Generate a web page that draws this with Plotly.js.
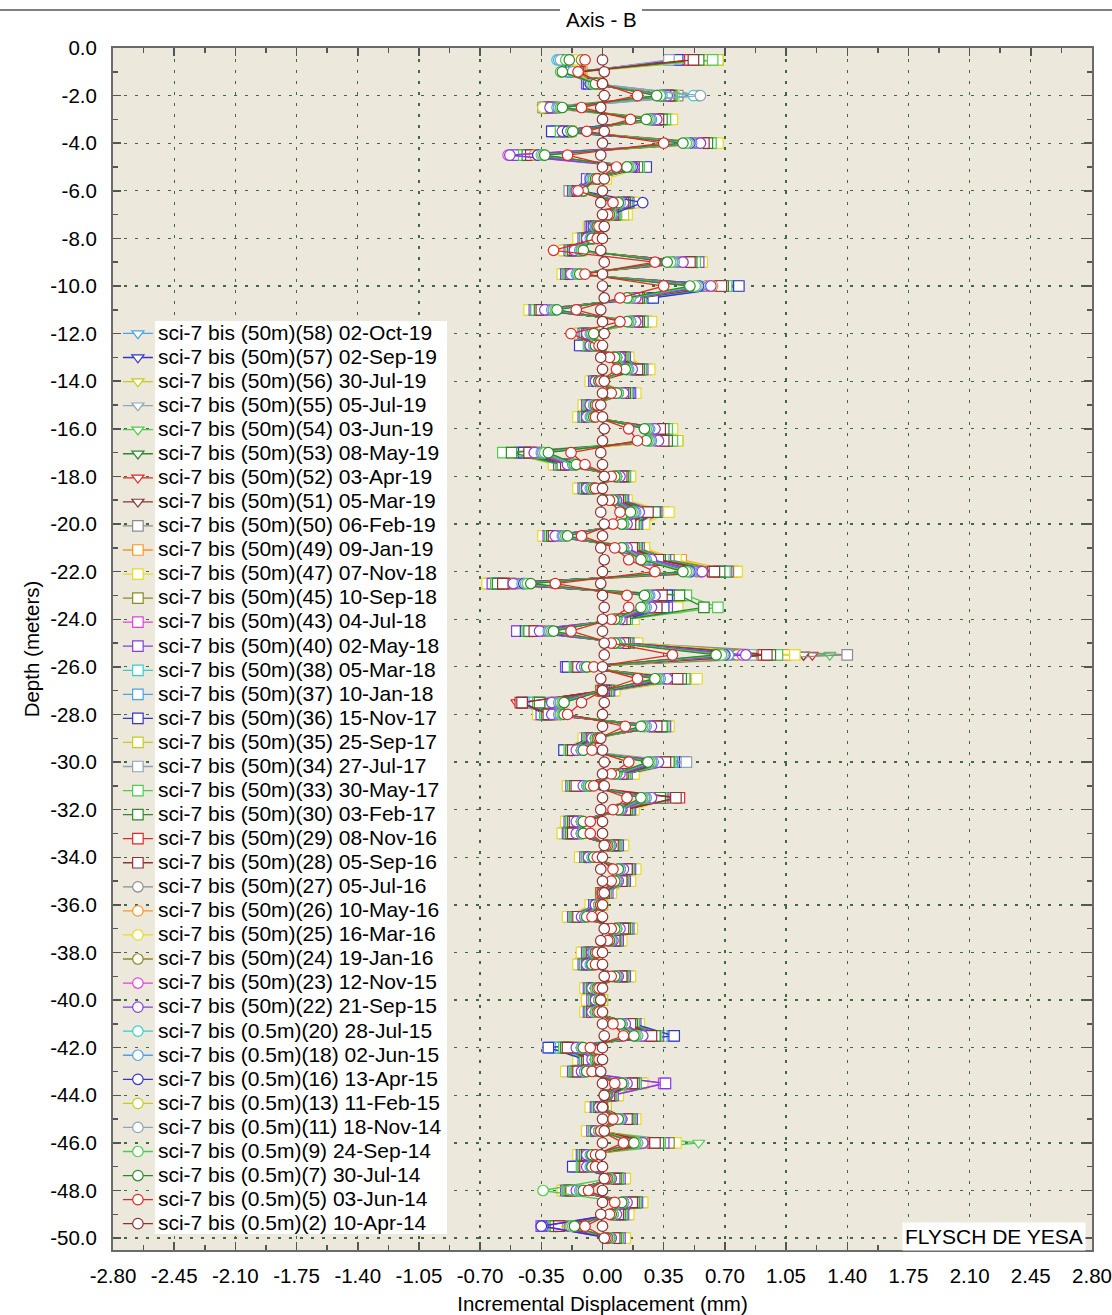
<!DOCTYPE html>
<html><head><meta charset="utf-8">
<script src="https://cdn.plot.ly/plotly-3.0.1.min.js"></script>
<style>html,body{margin:0;padding:0;background:#fff}#chart{width:1112px;height:1315px}</style>
</head><body><div id="chart"></div>
<script>
const depth = [-0.5,-1,-1.5,-2,-2.5,-3,-3.5,-4,-4.5,-5,
-5.5,-6,-6.5,-7,-7.5,-8,-8.5,-9,-9.5,-10,
-10.5,-11,-11.5,-12,-12.5,-13,-13.5,-14,-14.5,-15,
-15.5,-16,-16.5,-17,-17.5,-18,-18.5,-19,-19.5,-20,
-20.5,-21,-21.5,-22,-22.5,-23,-23.5,-24,-24.5,-25,
-25.5,-26,-26.5,-27,-27.5,-28,-28.5,-29,-29.5,-30,
-30.5,-31,-31.5,-32,-32.5,-33,-33.5,-34,-34.5,-35,
-35.5,-36,-36.5,-37,-37.5,-38,-38.5,-39,-39.5,-40,
-40.5,-41,-41.5,-42,-42.5,-43,-43.5,-44,-44.5,-45,
-45.5,-46,-46.5,-47,-47.5,-48,-48.5,-49,-49.5,-50];

const r58 = [0.62,-0.18,-0.08,0.44,-0.33,0.38,-0.26,0.63,-0.47,0.22,
-0.04,-0.18,0.16,0.10,-0.07,-0.12,-0.2,0.55,-0.2,0.74,
0.24,-0.4,0.24,-0.12,-0.1,0.13,0.24,-0.05,0.16,-0.09,
-0.12,0.36,0.39,-0.48,-0.25,0.14,-0.12,0.12,0.3,0.2,
-0.32,0.2,0.36,0.7,-0.64,0.4,0.38,0.14,-0.44,0.16,
1.08,-0.16,0.48,0.05,-0.38,-0.34,0.35,-0.09,-0.2,0.4,
0.14,-0.18,0.35,0.16,-0.18,-0.2,0.1,-0.1,0.16,0.13,
0.03,-0.05,-0.18,0.15,0.09,-0.1,-0.12,0.14,-0.08,-0.06,
-0.08,0.18,0.32,-0.24,-0.12,-0.18,0.2,0.06,-0.04,0.16,
-0.06,0.32,-0.12,-0.14,0.1,-0.2,0.2,0.12,-0.28,0.1];
const r57 = [0.6,-0.16,-0.06,0.42,-0.32,0.36,-0.24,0.65,-0.45,0.24,
-0.05,-0.17,0.14,0.08,-0.06,-0.1,-0.18,0.54,-0.2,0.72,
0.22,-0.38,0.26,-0.1,-0.08,0.12,0.22,-0.04,0.14,-0.08,
-0.1,0.35,0.38,-0.45,-0.24,0.12,-0.1,0.1,0.28,0.18,
-0.3,0.18,0.34,0.68,-0.62,0.36,0.34,0.12,-0.42,0.14,
1.02,-0.15,0.46,0.03,-0.36,-0.33,0.34,-0.08,-0.18,0.38,
0.12,-0.16,0.33,0.15,-0.17,-0.18,0.08,-0.09,0.15,0.12,
0.02,-0.04,-0.16,0.13,0.08,-0.08,-0.1,0.12,-0.07,-0.05,
-0.07,0.17,0.3,-0.22,-0.1,-0.16,0.18,0.05,-0.03,0.15,
-0.05,0.3,-0.11,-0.12,0.09,-0.19,0.19,0.11,-0.27,0.09];
const r56 = [0.61,-0.17,-0.04,0.4,-0.31,0.35,-0.23,0.62,-0.44,0.2,
-0.06,-0.16,0.13,0.07,-0.05,-0.09,-0.17,0.53,-0.19,0.7,
0.21,-0.37,0.22,-0.09,-0.07,0.11,0.2,-0.03,0.13,-0.07,
-0.09,0.37,0.4,-0.44,-0.22,0.11,-0.09,0.09,0.26,0.17,
-0.29,0.17,0.33,0.66,-0.6,0.35,0.33,0.11,-0.4,0.13,
0.98,-0.14,0.44,0.02,-0.34,-0.32,0.33,-0.07,-0.17,0.37,
0.11,-0.15,0.32,0.14,-0.16,-0.17,0.07,-0.08,0.14,0.11,
0.01,-0.03,-0.15,0.12,0.07,-0.07,-0.09,0.11,-0.06,-0.04,
-0.06,0.16,0.29,-0.2,-0.09,-0.15,0.17,0.04,-0.02,0.14,
-0.04,0.29,-0.1,-0.11,0.08,-0.18,0.18,0.1,-0.26,0.08];
const r55 = [0.57,-0.14,-0.05,0.45,-0.3,0.34,-0.25,0.6,-0.43,0.19,
-0.07,-0.15,0.12,0.09,-0.03,-0.11,-0.15,0.52,-0.17,0.69,
0.2,-0.36,0.21,-0.11,-0.06,0.1,0.21,-0.02,0.12,-0.06,
-0.08,0.33,0.36,-0.43,-0.21,0.13,-0.07,0.11,0.25,0.16,
-0.27,0.16,0.31,0.64,-0.58,0.34,0.31,0.1,-0.39,0.12,
0.95,-0.13,0.42,0.01,-0.32,-0.31,0.31,-0.06,-0.16,0.36,
0.1,-0.14,0.31,0.13,-0.15,-0.16,0.06,-0.07,0.13,0.1,
0.0,-0.02,-0.14,0.11,0.06,-0.06,-0.08,0.1,-0.05,-0.03,
-0.05,0.15,0.27,-0.19,-0.08,-0.14,0.16,0.03,-0.01,0.13,
-0.03,0.28,-0.09,-0.1,0.07,-0.17,0.17,0.09,-0.25,0.07];
const r54 = [0.59,-0.15,-0.07,0.41,-0.34,0.36,-0.24,0.61,-0.46,0.21,
-0.05,-0.17,0.15,0.08,-0.05,-0.1,-0.18,0.54,-0.21,0.72,
0.23,-0.39,0.23,-0.1,-0.09,0.12,0.23,-0.04,0.15,-0.08,
-0.11,0.38,0.42,-0.5,-0.26,0.13,-0.11,0.11,0.3,0.19,
-0.31,0.19,0.37,0.72,-0.63,0.42,0.4,0.15,-0.45,0.15,
1.3,-0.17,0.5,0.04,-0.4,-0.35,0.36,-0.09,-0.2,0.41,
0.13,-0.17,0.36,0.16,-0.19,-0.2,0.09,-0.1,0.17,0.13,
0.03,-0.05,-0.17,0.15,0.08,-0.09,-0.11,0.13,-0.08,-0.06,
-0.08,0.19,0.33,-0.23,-0.11,-0.17,0.2,0.06,-0.04,0.17,
-0.06,0.55,-0.12,-0.13,0.1,-0.21,0.2,0.12,-0.29,0.1];
const r53 = [0.6,-0.17,-0.06,0.39,-0.33,0.35,-0.23,0.6,-0.45,0.2,
-0.06,-0.16,0.14,0.07,-0.06,-0.09,-0.19,0.52,-0.2,0.7,
0.22,-0.38,0.22,-0.09,-0.08,0.11,0.22,-0.03,0.14,-0.07,
-0.1,0.36,0.4,-0.47,-0.24,0.12,-0.1,0.1,0.28,0.18,
-0.3,0.18,0.35,0.7,-0.62,0.38,0.36,0.13,-0.43,0.14,
1.15,-0.16,0.48,0.03,-0.38,-0.34,0.35,-0.08,-0.19,0.39,
0.12,-0.16,0.34,0.15,-0.18,-0.19,0.08,-0.09,0.16,0.12,
0.02,-0.04,-0.16,0.14,0.07,-0.08,-0.1,0.12,-0.07,-0.05,
-0.07,0.18,0.31,-0.22,-0.1,-0.16,0.19,0.05,-0.03,0.16,
-0.05,0.33,-0.11,-0.12,0.09,-0.2,0.19,0.11,-0.28,0.09];
const r52 = [0.56,-0.16,-0.05,0.38,-0.31,0.34,-0.22,0.59,-0.43,0.19,
-0.05,-0.15,0.13,0.07,-0.05,-0.09,-0.17,0.51,-0.19,0.69,
0.21,-0.36,0.21,-0.09,-0.07,0.11,0.21,-0.03,0.13,-0.07,
-0.09,0.34,0.37,-0.44,-0.22,0.12,-0.09,0.1,0.27,0.17,
-0.29,0.17,0.33,0.67,-0.6,0.36,0.34,0.12,-0.41,0.13,
1.2,-0.15,0.45,0.02,-0.49,-0.33,0.33,-0.07,-0.18,0.38,
0.11,-0.15,0.33,0.14,-0.17,-0.18,0.07,-0.08,0.15,0.11,
0.01,-0.03,-0.15,0.13,0.07,-0.07,-0.09,0.11,-0.06,-0.04,
-0.06,0.17,0.3,-0.21,-0.09,-0.15,0.18,0.04,-0.02,0.15,
-0.04,0.31,-0.1,-0.11,0.08,-0.19,0.18,0.1,-0.27,0.08];
const r51 = [0.55,-0.14,-0.06,0.39,-0.3,0.33,-0.21,0.58,-0.42,0.18,
-0.06,-0.14,0.12,0.06,-0.04,-0.08,-0.16,0.5,-0.18,0.68,
0.2,-0.35,0.2,-0.08,-0.06,0.1,0.2,-0.02,0.12,-0.06,
-0.08,0.33,0.36,-0.43,-0.21,0.11,-0.08,0.09,0.26,0.16,
-0.28,0.16,0.32,0.66,-0.59,0.35,0.33,0.11,-0.4,0.12,
1.15,-0.14,0.44,0.01,-0.47,-0.32,0.32,-0.06,-0.17,0.37,
0.1,-0.14,0.32,0.13,-0.16,-0.17,0.06,-0.07,0.14,0.1,
0.0,-0.02,-0.14,0.12,0.06,-0.06,-0.08,0.1,-0.05,-0.03,
-0.05,0.16,0.29,-0.2,-0.08,-0.14,0.17,0.03,-0.01,0.14,
-0.03,0.3,-0.09,-0.1,0.07,-0.18,0.17,0.09,-0.26,0.07];
const r50 = [0.64,-0.18,-0.07,0.43,-0.34,0.37,-0.25,0.63,-0.47,0.23,
-0.04,-0.19,0.16,0.1,-0.07,-0.12,-0.21,0.56,-0.22,0.75,
0.25,-0.41,0.25,-0.13,-0.1,0.14,0.25,-0.06,0.17,-0.1,
-0.13,0.38,0.4,-0.5,-0.27,0.15,-0.13,0.13,0.35,0.22,
-0.33,0.22,0.4,0.74,-0.65,0.45,0.42,0.17,-0.46,0.18,
1.4,-0.18,0.52,0.06,-0.4,-0.36,0.37,-0.1,-0.21,0.42,
0.16,-0.19,0.38,0.17,-0.2,-0.22,0.11,-0.12,0.18,0.15,
0.04,-0.06,-0.19,0.16,0.1,-0.11,-0.13,0.15,-0.09,-0.08,
-0.09,0.2,0.35,-0.25,-0.13,-0.2,0.22,0.08,-0.06,0.18,
-0.08,0.36,-0.13,-0.15,0.12,-0.22,0.22,0.14,-0.3,0.12];
const r49 = [0.6,-0.13,-0.04,0.38,-0.28,0.32,-0.2,0.6,-0.4,0.17,
-0.07,-0.14,0.11,0.05,-0.03,-0.07,-0.14,0.49,-0.16,0.66,
0.19,-0.33,0.19,-0.07,-0.05,0.09,0.19,-0.01,0.11,-0.05,
-0.07,0.31,0.33,-0.4,-0.19,0.1,-0.07,0.08,0.24,0.15,
-0.26,0.22,0.45,0.76,-0.55,0.33,0.3,0.1,-0.37,0.11,
1.05,-0.12,0.42,0.0,-0.28,-0.29,0.3,-0.05,-0.15,0.34,
0.1,-0.13,0.3,0.12,-0.15,-0.16,0.05,-0.06,0.13,0.1,
0.0,-0.02,-0.13,0.11,0.06,-0.05,-0.07,0.1,-0.04,-0.02,
-0.05,0.15,0.26,-0.18,-0.07,-0.13,0.16,0.03,0.0,0.13,
-0.02,0.4,-0.08,-0.09,0.06,-0.17,0.16,0.08,-0.24,0.06];
const r47 = [0.66,-0.15,-0.03,0.41,-0.32,0.4,-0.28,0.66,-0.48,0.24,
0.02,-0.17,0.18,0.14,-0.08,-0.14,-0.22,0.57,-0.23,0.76,
0.26,-0.42,0.28,-0.14,-0.11,0.15,0.27,-0.07,0.19,-0.11,
-0.14,0.4,0.43,-0.52,-0.28,0.16,-0.14,0.14,0.38,0.24,
-0.34,0.24,0.42,0.77,-0.66,0.47,0.43,0.18,-0.47,0.2,
1.1,-0.19,0.54,0.07,-0.41,-0.37,0.38,-0.11,-0.22,0.43,
0.18,-0.2,0.4,0.18,-0.21,-0.23,0.12,-0.13,0.19,0.16,
0.05,-0.07,-0.2,0.17,0.11,-0.12,-0.14,0.16,-0.1,-0.09,
-0.1,0.21,0.36,-0.26,-0.14,-0.21,0.23,0.09,-0.07,0.19,
-0.09,0.42,-0.14,-0.16,0.13,-0.23,0.23,0.15,-0.31,0.13];
const r45 = [0.5,-0.12,-0.02,0.37,-0.29,0.31,-0.19,0.57,-0.39,0.16,
-0.08,-0.13,0.1,0.04,-0.02,-0.06,-0.13,0.48,-0.15,0.65,
0.18,-0.32,0.18,-0.06,-0.04,0.08,0.18,0.0,0.1,-0.04,
-0.06,0.3,0.32,-0.39,-0.18,0.09,-0.06,0.07,0.23,0.14,
-0.25,0.21,0.38,0.72,-0.53,0.31,0.28,0.09,-0.36,0.1,
0.98,-0.11,0.41,-0.01,-0.27,-0.28,0.29,-0.04,-0.14,0.33,
0.09,-0.12,0.29,0.11,-0.14,-0.15,0.04,-0.05,0.12,0.09,
-0.01,-0.01,-0.12,0.1,0.05,-0.04,-0.06,0.09,-0.03,-0.01,
-0.04,0.14,0.25,-0.17,-0.06,-0.12,0.15,0.02,0.01,0.12,
-0.01,0.38,-0.07,-0.08,0.05,-0.16,0.15,0.07,-0.23,0.05];
const r43 = [0.45,-0.16,-0.08,0.36,-0.33,0.3,-0.27,0.56,-0.46,0.2,
-0.08,-0.16,0.14,0.06,-0.06,-0.1,-0.18,0.53,-0.2,0.73,
0.22,-0.38,0.22,-0.1,-0.08,0.12,0.22,-0.04,0.15,-0.08,
-0.1,0.36,0.38,-0.46,-0.24,0.12,-0.1,0.11,0.3,0.19,
-0.3,0.19,0.35,0.7,-0.62,0.38,0.36,0.13,-0.48,0.14,
1.0,-0.2,0.46,0.03,-0.36,-0.34,0.35,-0.08,-0.19,0.39,
0.13,-0.17,0.34,0.15,-0.18,-0.19,0.08,-0.09,0.15,0.12,
0.02,-0.04,-0.16,0.14,0.08,-0.08,-0.1,0.12,-0.07,-0.05,
-0.07,0.18,0.31,-0.22,-0.1,-0.16,0.35,0.05,-0.03,0.16,
-0.05,0.34,-0.11,-0.12,0.09,-0.2,0.19,0.11,-0.34,0.09];
const r40 = [0.48,-0.17,-0.09,0.38,-0.32,0.32,-0.26,0.57,-0.5,0.21,
-0.09,-0.17,0.15,0.07,-0.07,-0.11,-0.19,0.55,-0.21,0.74,
0.23,-0.39,0.23,-0.11,-0.09,0.13,0.23,-0.05,0.16,-0.09,
-0.11,0.37,0.39,-0.47,-0.25,0.13,-0.11,0.12,0.31,0.2,
-0.31,0.2,0.36,0.71,-0.63,0.39,0.37,0.14,-0.49,0.15,
0.95,-0.21,0.47,0.04,-0.37,-0.35,0.36,-0.09,-0.2,0.4,
0.14,-0.18,0.35,0.16,-0.19,-0.2,0.09,-0.1,0.16,0.13,
0.03,-0.05,-0.17,0.15,0.09,-0.09,-0.11,0.13,-0.08,-0.06,
-0.08,0.19,0.32,-0.23,-0.11,-0.17,0.36,0.06,-0.04,0.17,
-0.06,0.35,-0.12,-0.13,0.1,-0.21,0.2,0.12,-0.35,0.1];
const r38 = [0.42,-0.13,-0.06,0.35,-0.29,0.29,-0.24,0.55,-0.41,0.19,
-0.07,-0.14,0.12,0.05,-0.04,-0.08,-0.15,0.5,-0.17,0.7,
0.2,-0.35,0.2,-0.08,-0.06,0.1,0.2,-0.02,0.13,-0.06,
-0.08,0.33,0.35,-0.43,-0.21,0.11,-0.08,0.09,0.28,0.17,
-0.28,0.17,0.32,0.66,-0.58,0.35,0.33,0.11,-0.42,0.12,
0.85,-0.18,0.43,0.01,-0.42,-0.31,0.32,-0.06,-0.22,0.36,
0.11,-0.15,0.32,0.13,-0.16,-0.17,0.06,-0.07,0.13,0.1,
0.0,-0.02,-0.14,0.12,0.06,-0.06,-0.08,0.1,-0.05,-0.03,
-0.05,0.16,0.28,-0.28,-0.08,-0.14,0.17,0.03,-0.01,0.14,
-0.03,0.3,-0.09,-0.15,0.07,-0.18,0.17,0.09,-0.26,0.07];
const r37 = [0.4,-0.14,-0.07,0.36,-0.3,0.3,-0.28,0.56,-0.44,0.24,
-0.06,-0.15,0.13,0.06,-0.05,-0.09,-0.16,0.52,-0.19,0.77,
0.28,-0.37,0.21,-0.09,-0.12,0.11,0.21,-0.03,0.14,-0.07,
-0.09,0.34,0.36,-0.44,-0.22,0.12,-0.09,0.1,0.29,0.18,
-0.29,0.18,0.33,0.67,-0.59,0.36,0.34,0.12,-0.43,0.13,
0.9,-0.19,0.44,0.02,-0.45,-0.32,0.33,-0.07,-0.21,0.46,
0.12,-0.16,0.33,0.14,-0.17,-0.18,0.07,-0.08,0.14,0.11,
0.01,-0.03,-0.15,0.13,0.07,-0.07,-0.09,0.11,-0.06,-0.04,
-0.06,0.17,0.4,-0.3,-0.09,-0.15,0.18,0.04,-0.02,0.15,
-0.04,0.31,-0.1,-0.16,0.08,-0.19,0.18,0.1,-0.27,0.08];
const r36 = [0.43,-0.15,-0.08,0.37,-0.31,0.31,-0.29,0.57,-0.45,0.25,
-0.05,-0.16,0.14,0.07,-0.06,-0.1,-0.17,0.53,-0.2,0.78,
0.29,-0.38,0.22,-0.1,-0.13,0.12,0.22,-0.04,0.15,-0.08,
-0.1,0.35,0.37,-0.45,-0.23,0.13,-0.1,0.11,0.3,0.19,
-0.3,0.19,0.34,0.68,-0.6,0.37,0.35,0.13,-0.44,0.14,
0.92,-0.2,0.45,0.03,-0.46,-0.33,0.34,-0.08,-0.22,0.47,
0.13,-0.17,0.34,0.15,-0.18,-0.19,0.08,-0.09,0.15,0.12,
0.02,-0.04,-0.16,0.14,0.08,-0.08,-0.1,0.12,-0.07,-0.05,
-0.07,0.18,0.41,-0.31,-0.1,-0.16,0.19,0.05,-0.03,0.16,
-0.05,0.32,-0.11,-0.17,0.09,-0.2,0.19,0.11,-0.28,0.09];
const r35 = [0.66,-0.12,-0.03,0.39,-0.27,0.32,-0.18,0.62,-0.38,0.2,
-0.03,-0.12,0.12,0.12,-0.02,-0.06,-0.12,0.49,-0.14,0.67,
0.19,-0.32,0.21,-0.06,-0.04,0.09,0.19,0.0,0.12,-0.04,
-0.06,0.32,0.43,-0.38,-0.17,0.11,-0.06,0.09,0.24,0.15,
-0.25,0.16,0.31,0.64,-0.52,0.33,0.3,0.1,-0.35,0.1,
0.88,-0.1,0.4,0.02,-0.26,-0.27,0.3,-0.03,-0.13,0.34,
0.1,-0.11,0.3,0.12,-0.13,-0.14,0.06,-0.04,0.12,0.1,
0.01,0.0,-0.11,0.1,0.05,-0.03,-0.05,0.09,-0.02,0.0,
-0.03,0.14,0.24,-0.16,-0.05,-0.11,0.14,0.02,0.02,0.12,
0.0,0.28,-0.06,-0.07,0.05,-0.14,0.14,0.07,-0.21,0.05];
const r34 = [0.38,-0.14,-0.05,0.34,-0.29,0.29,-0.21,0.54,-0.4,0.17,
-0.06,-0.14,0.11,0.05,-0.04,-0.08,-0.15,0.48,-0.17,0.66,
0.19,-0.34,0.19,-0.08,-0.06,0.09,0.19,-0.02,0.11,-0.06,
-0.08,0.31,0.33,-0.41,-0.2,0.1,-0.08,0.08,0.25,0.15,
-0.27,0.16,0.31,0.63,-0.55,0.33,0.31,0.1,-0.38,0.11,
0.85,-0.13,0.41,0.0,-0.3,-0.3,0.3,-0.05,-0.15,0.48,
0.1,-0.13,0.3,0.12,-0.15,-0.16,0.05,-0.07,0.12,0.09,
0.0,-0.02,-0.13,0.1,0.05,-0.06,-0.08,0.09,-0.05,-0.02,
-0.05,0.14,0.25,-0.18,-0.06,-0.13,0.15,0.02,-0.01,0.12,
-0.02,0.27,-0.08,-0.09,0.06,-0.16,0.15,0.08,-0.23,0.06];
const r33 = [0.63,-0.16,-0.06,0.4,-0.33,0.36,-0.24,0.62,-0.45,0.21,
-0.05,-0.16,0.14,0.08,-0.05,-0.1,-0.18,0.53,-0.2,0.71,
0.22,-0.38,0.23,-0.1,-0.08,0.12,0.22,-0.04,0.14,-0.08,
-0.1,0.37,0.4,-0.57,-0.24,0.13,-0.1,0.11,0.28,0.19,
-0.3,0.19,0.35,0.7,-0.61,0.48,0.66,0.14,-0.43,0.14,
1.0,-0.16,0.47,0.03,-0.37,-0.33,0.35,-0.08,-0.19,0.39,
0.13,-0.17,0.34,0.15,-0.18,-0.19,0.08,-0.09,0.15,0.12,
0.02,-0.04,-0.16,0.14,0.08,-0.08,-0.1,0.12,-0.07,-0.05,
-0.07,0.18,0.31,-0.22,-0.1,-0.16,0.19,0.05,-0.03,0.16,
-0.05,0.33,-0.11,-0.12,0.09,-0.2,0.19,0.11,-0.28,0.09];
const r30 = [0.55,-0.15,-0.05,0.39,-0.31,0.34,-0.22,0.6,-0.43,0.2,
-0.05,-0.15,0.13,0.07,-0.05,-0.09,-0.17,0.51,-0.19,0.69,
0.21,-0.36,0.21,-0.09,-0.07,0.11,0.21,-0.03,0.13,-0.07,
-0.09,0.35,0.37,-0.52,-0.23,0.12,-0.09,0.1,0.3,0.18,
-0.29,0.18,0.33,0.67,-0.6,0.44,0.58,0.13,-0.42,0.13,
0.96,-0.15,0.45,0.02,-0.36,-0.32,0.34,-0.07,-0.18,0.38,
0.12,-0.16,0.33,0.14,-0.17,-0.18,0.07,-0.08,0.14,0.11,
0.01,-0.03,-0.15,0.13,0.07,-0.07,-0.09,0.11,-0.06,-0.04,
-0.06,0.17,0.3,-0.21,-0.09,-0.15,0.18,0.04,-0.02,0.15,
-0.04,0.32,-0.1,-0.11,0.08,-0.19,0.18,0.1,-0.27,0.08];
const r29 = [0.5,-0.13,-0.04,0.37,-0.29,0.31,-0.2,0.57,-0.4,0.17,
-0.06,-0.14,0.12,0.06,-0.04,-0.08,-0.15,0.49,-0.17,0.67,
0.19,-0.34,0.19,-0.07,-0.05,0.09,0.19,-0.02,0.11,-0.05,
-0.07,0.32,0.34,-0.41,-0.2,0.1,-0.07,0.08,0.25,0.15,
-0.27,0.16,0.31,0.63,-0.56,0.33,0.3,0.1,-0.38,0.11,
0.92,-0.13,0.42,0.0,-0.47,-0.3,0.3,-0.05,-0.16,0.35,
0.1,-0.14,0.44,0.12,-0.15,-0.16,0.05,-0.06,0.13,0.1,
0.0,-0.02,-0.13,0.11,0.06,-0.05,-0.07,0.1,-0.04,-0.02,
-0.05,0.15,0.27,-0.19,-0.07,-0.13,0.16,0.03,0.0,0.13,
-0.02,0.29,-0.08,-0.09,0.06,-0.17,0.16,0.08,-0.24,0.06];
const r28 = [0.52,-0.14,-0.05,0.38,-0.3,0.32,-0.21,0.58,-0.41,0.18,
-0.05,-0.14,0.12,0.06,-0.04,-0.08,-0.16,0.5,-0.18,0.68,
0.2,-0.35,0.2,-0.08,-0.06,0.1,0.2,-0.03,0.12,-0.06,
-0.08,0.33,0.35,-0.42,-0.21,0.11,-0.08,0.09,0.26,0.16,
-0.28,0.17,0.32,0.64,-0.57,0.34,0.31,0.11,-0.39,0.12,
0.94,-0.14,0.43,0.01,-0.46,-0.31,0.31,-0.06,-0.17,0.36,
0.11,-0.15,0.42,0.13,-0.16,-0.17,0.06,-0.07,0.14,0.11,
0.01,-0.03,-0.14,0.12,0.07,-0.06,-0.08,0.11,-0.05,-0.03,
-0.06,0.16,0.28,-0.2,-0.08,-0.14,0.17,0.04,-0.01,0.14,
-0.03,0.3,-0.09,-0.1,0.07,-0.18,0.17,0.09,-0.25,0.07];
const r27 = [-0.2,-0.18,-0.04,0.55,-0.27,0.3,-0.2,0.55,-0.38,0.16,
-0.05,-0.13,0.11,0.05,-0.03,-0.07,-0.14,0.45,-0.16,0.62,
0.18,-0.31,0.18,-0.07,-0.05,0.09,0.16,-0.02,0.1,-0.05,
-0.07,0.29,0.31,-0.38,-0.18,0.09,-0.07,0.07,0.2,0.13,
-0.25,0.13,0.27,0.56,-0.5,0.29,0.27,0.09,-0.34,0.09,
0.8,-0.11,0.36,0.0,-0.27,-0.27,0.27,-0.04,-0.13,0.31,
0.09,-0.09,0.27,0.11,-0.13,-0.13,0.04,-0.06,0.11,0.09,
0.0,-0.02,-0.11,0.09,0.05,-0.05,-0.07,0.09,-0.04,-0.02,
-0.04,0.12,0.22,-0.13,-0.04,-0.11,0.13,0.03,0.0,0.11,
-0.02,0.22,-0.07,-0.07,0.04,-0.13,0.13,0.07,-0.2,0.04];
const r26 = [-0.18,-0.16,-0.05,0.37,-0.28,0.31,-0.21,0.56,-0.39,0.17,
-0.06,-0.14,0.11,0.06,-0.04,-0.07,-0.15,0.46,-0.17,0.63,
0.19,-0.32,0.19,-0.07,-0.05,0.09,0.17,-0.02,0.11,-0.05,
-0.07,0.3,0.32,-0.39,-0.19,0.09,-0.07,0.08,0.21,0.14,
-0.26,0.14,0.28,0.57,-0.51,0.3,0.28,0.09,-0.35,0.1,
0.82,-0.11,0.37,0.0,-0.28,-0.28,0.28,-0.04,-0.14,0.32,
0.09,-0.1,0.28,0.11,-0.14,-0.14,0.05,-0.06,0.11,0.09,
0.0,-0.02,-0.11,0.09,0.05,-0.05,-0.07,0.09,-0.04,-0.02,
-0.04,0.13,0.23,-0.14,-0.05,-0.11,0.14,0.03,0.0,0.11,
-0.02,0.23,-0.07,-0.07,0.05,-0.14,0.14,0.07,-0.2,0.05];
const r25 = [-0.15,-0.15,-0.03,0.36,-0.34,0.3,-0.19,0.54,-0.37,0.16,
-0.05,-0.13,0.1,0.05,-0.03,-0.07,-0.14,0.44,-0.16,0.6,
0.18,-0.3,0.18,-0.06,-0.05,0.08,0.16,-0.02,0.1,-0.05,
-0.07,0.28,0.3,-0.37,-0.18,0.09,-0.07,0.07,0.2,0.13,
-0.25,0.13,0.27,0.55,-0.49,0.28,0.26,0.09,-0.33,0.09,
0.78,-0.1,0.35,0.0,-0.26,-0.26,0.26,-0.04,-0.13,0.3,
0.08,-0.09,0.26,0.1,-0.13,-0.13,0.04,-0.06,0.1,0.08,
0.0,-0.02,-0.1,0.09,0.05,-0.05,-0.07,0.08,-0.04,-0.02,
-0.04,0.12,0.21,-0.13,-0.04,-0.1,0.13,0.02,0.0,0.1,
-0.02,0.21,-0.07,-0.07,0.04,-0.13,0.13,0.07,-0.19,0.04];
const r24 = [-0.12,-0.14,-0.04,0.35,-0.26,0.29,-0.2,0.53,-0.37,0.15,
-0.06,-0.13,0.1,0.05,-0.03,-0.07,-0.14,0.43,-0.15,0.59,
0.17,-0.3,0.17,-0.07,-0.05,0.08,0.16,-0.02,0.1,-0.05,
-0.07,0.28,0.3,-0.36,-0.17,0.08,-0.07,0.07,0.19,0.13,
-0.24,0.13,0.26,0.54,-0.48,0.28,0.26,0.08,-0.33,0.09,
0.77,-0.1,0.35,0.0,-0.26,-0.26,0.26,-0.04,-0.13,0.3,
0.08,-0.09,0.26,0.1,-0.13,-0.13,0.04,-0.06,0.1,0.08,
0.0,-0.02,-0.1,0.08,0.05,-0.05,-0.07,0.08,-0.04,-0.02,
-0.04,0.12,0.21,-0.13,-0.04,-0.1,0.13,0.02,0.0,0.1,
-0.02,0.21,-0.07,-0.07,0.04,-0.13,0.13,0.06,-0.19,0.04];
const r23 = [-0.22,-0.17,-0.06,0.36,-0.29,0.3,-0.22,0.55,-0.54,0.17,
-0.06,-0.14,0.11,0.05,-0.04,-0.08,-0.15,0.45,-0.17,0.61,
0.18,-0.32,0.18,-0.08,-0.06,0.09,0.16,-0.03,0.11,-0.06,
-0.08,0.29,0.31,-0.38,-0.19,0.09,-0.08,0.07,0.2,0.13,
-0.26,0.13,0.27,0.56,-0.5,0.29,0.27,0.09,-0.35,0.09,
0.8,-0.11,0.36,0.0,-0.28,-0.28,0.27,-0.05,-0.14,0.31,
0.09,-0.1,0.27,0.1,-0.14,-0.14,0.04,-0.07,0.11,0.08,
0.0,-0.03,-0.11,0.09,0.05,-0.05,-0.08,0.08,-0.05,-0.03,
-0.05,0.12,0.22,-0.14,-0.05,-0.11,0.13,0.02,-0.01,0.1,
-0.03,0.22,-0.08,-0.08,0.04,-0.14,0.13,0.07,-0.35,0.04];
const r22 = [-0.24,-0.18,-0.07,0.37,-0.3,0.31,-0.23,0.56,-0.53,0.18,
-0.07,-0.15,0.12,0.06,-0.05,-0.09,-0.16,0.46,-0.18,0.62,
0.19,-0.33,0.19,-0.09,-0.07,0.1,0.17,-0.04,0.12,-0.07,
-0.09,0.3,0.32,-0.39,-0.2,0.1,-0.09,0.08,0.21,0.14,
-0.27,0.14,0.28,0.57,-0.51,0.3,0.28,0.1,-0.36,0.1,
0.82,-0.12,0.37,0.01,-0.29,-0.29,0.28,-0.06,-0.15,0.32,
0.1,-0.11,0.28,0.11,-0.15,-0.15,0.05,-0.08,0.12,0.09,
0.01,-0.04,-0.12,0.1,0.06,-0.06,-0.09,0.09,-0.06,-0.04,
-0.06,0.13,0.23,-0.15,-0.06,-0.12,0.14,0.03,-0.02,0.11,
-0.04,0.23,-0.09,-0.09,0.05,-0.15,0.14,0.08,-0.34,0.05];
const r20 = [-0.26,-0.2,-0.05,0.52,-0.25,0.27,-0.18,0.5,-0.35,0.15,
-0.05,-0.12,0.1,0.05,-0.03,-0.06,-0.12,0.4,-0.14,0.55,
0.16,-0.28,0.16,-0.06,-0.05,0.08,0.14,-0.02,0.09,-0.05,
-0.06,0.26,0.27,-0.34,-0.16,0.08,-0.06,0.06,0.18,0.12,
-0.22,0.12,0.24,0.5,-0.45,0.26,0.24,0.08,-0.3,0.08,
0.7,-0.1,0.32,0.0,-0.24,-0.24,0.24,-0.04,-0.12,0.28,
0.08,-0.08,0.24,0.1,-0.12,-0.12,0.04,-0.05,0.1,0.08,
0.0,-0.02,-0.1,0.08,0.05,-0.05,-0.06,0.08,-0.04,-0.02,
-0.04,0.11,0.2,-0.12,-0.04,-0.1,0.12,0.02,0.0,0.1,
-0.02,0.2,-0.06,-0.06,0.04,-0.12,0.12,0.06,-0.18,0.04];
const r18 = [-0.25,-0.19,-0.06,0.34,-0.26,0.28,-0.19,0.51,-0.36,0.16,
-0.06,-0.13,0.1,0.05,-0.04,-0.07,-0.13,0.41,-0.15,0.56,
0.16,-0.29,0.16,-0.07,-0.05,0.08,0.15,-0.02,0.09,-0.05,
-0.07,0.27,0.28,-0.35,-0.17,0.08,-0.07,0.07,0.19,0.12,
-0.23,0.12,0.25,0.51,-0.46,0.27,0.25,0.08,-0.31,0.08,
0.72,-0.1,0.33,0.0,-0.25,-0.25,0.25,-0.04,-0.12,0.29,
0.08,-0.09,0.25,0.1,-0.12,-0.12,0.04,-0.06,0.1,0.08,
0.0,-0.02,-0.1,0.08,0.05,-0.05,-0.07,0.08,-0.04,-0.02,
-0.04,0.11,0.2,-0.12,-0.04,-0.1,0.12,0.02,0.0,0.1,
-0.02,0.2,-0.07,-0.07,0.04,-0.13,0.12,0.06,-0.18,0.04];
const r16 = [-0.23,-0.17,-0.07,0.33,-0.25,0.27,-0.2,0.5,-0.37,0.17,
-0.05,-0.12,0.23,0.05,-0.03,-0.06,-0.12,0.4,-0.14,0.55,
0.16,-0.28,0.16,-0.06,-0.04,0.08,0.14,-0.02,0.09,-0.04,
-0.06,0.26,0.27,-0.34,-0.16,0.08,-0.06,0.06,0.18,0.12,
-0.22,0.12,0.24,0.5,-0.45,0.26,0.24,0.08,-0.3,0.08,
0.7,-0.1,0.32,0.0,-0.24,-0.24,0.24,-0.04,-0.12,0.28,
0.08,-0.08,0.24,0.1,-0.12,-0.12,0.04,-0.05,0.1,0.08,
0.0,-0.02,-0.1,0.08,0.05,-0.05,-0.06,0.08,-0.04,-0.02,
-0.04,0.11,0.19,-0.12,-0.04,-0.1,0.11,0.02,0.0,0.09,
-0.02,0.19,-0.06,-0.06,0.04,-0.12,0.12,0.06,-0.35,0.04];
const r13 = [-0.2,-0.16,-0.05,0.32,-0.24,0.26,-0.17,0.48,-0.34,0.15,
-0.05,-0.12,0.09,0.04,-0.03,-0.06,-0.12,0.39,-0.14,0.53,
0.15,-0.27,0.15,-0.06,-0.04,0.07,0.14,-0.02,0.09,-0.04,
-0.06,0.25,0.26,-0.33,-0.16,0.07,-0.06,0.06,0.17,0.11,
-0.21,0.11,0.23,0.48,-0.43,0.25,0.23,0.07,-0.29,0.08,
0.68,-0.09,0.31,0.0,-0.23,-0.23,0.23,-0.04,-0.11,0.27,
0.07,-0.08,0.23,0.09,-0.11,-0.11,0.04,-0.05,0.09,0.07,
0.0,-0.02,-0.09,0.08,0.04,-0.04,-0.06,0.07,-0.04,-0.02,
-0.04,0.1,0.19,-0.11,-0.04,-0.09,0.11,0.02,0.0,0.09,
-0.02,0.19,-0.06,-0.06,0.04,-0.12,0.11,0.06,-0.17,0.04];
const r11 = [-0.24,-0.17,-0.06,0.56,-0.25,0.27,-0.18,0.49,-0.35,0.16,
-0.05,-0.12,0.1,0.05,-0.03,-0.06,-0.12,0.4,-0.14,0.54,
0.16,-0.28,0.16,-0.06,-0.05,0.08,0.14,-0.02,0.09,-0.05,
-0.06,0.26,0.27,-0.34,-0.16,0.08,-0.06,0.06,0.18,0.12,
-0.22,0.12,0.24,0.49,-0.44,0.26,0.24,0.08,-0.3,0.08,
0.69,-0.1,0.32,0.0,-0.24,-0.24,0.24,-0.04,-0.12,0.28,
0.08,-0.08,0.24,0.1,-0.12,-0.12,0.04,-0.05,0.1,0.08,
0.0,-0.02,-0.1,0.08,0.05,-0.05,-0.06,0.08,-0.04,-0.02,
-0.04,0.11,0.2,-0.12,-0.04,-0.1,0.12,0.02,0.0,0.1,
-0.02,0.2,-0.06,-0.06,0.04,-0.12,0.12,0.06,-0.18,0.04];
const r9 = [-0.21,-0.24,-0.05,0.33,-0.24,0.26,-0.18,0.48,-0.34,0.15,
-0.05,-0.12,0.09,0.05,-0.03,-0.06,-0.12,0.39,-0.14,0.53,
0.15,-0.27,0.15,-0.06,-0.04,0.08,0.14,-0.02,0.09,-0.04,
-0.06,0.25,0.26,-0.33,-0.16,0.08,-0.06,0.06,0.17,0.12,
-0.21,0.11,0.23,0.48,-0.43,0.25,0.23,0.08,-0.29,0.08,
0.68,-0.09,0.31,0.0,-0.23,-0.23,0.23,-0.04,-0.11,0.27,
0.08,-0.08,0.23,0.09,-0.11,-0.11,0.04,-0.05,0.09,0.07,
0.0,-0.02,-0.09,0.08,0.04,-0.04,-0.06,0.07,-0.04,-0.02,
-0.04,0.1,0.19,-0.11,-0.04,-0.09,0.11,0.02,0.0,0.09,
-0.02,0.19,-0.06,-0.06,0.04,-0.34,0.11,0.06,-0.17,0.04];
const r7 = [-0.19,-0.23,-0.04,0.31,-0.23,0.25,-0.17,0.46,-0.33,0.14,
-0.04,-0.11,0.09,0.04,-0.03,-0.06,-0.11,0.37,-0.13,0.5,
0.14,-0.26,0.14,-0.05,-0.04,0.07,0.13,-0.02,0.08,-0.04,
-0.05,0.24,0.25,-0.31,-0.15,0.07,-0.05,0.06,0.16,0.11,
-0.2,0.11,0.22,0.46,-0.41,0.24,0.22,0.07,-0.28,0.07,
0.65,-0.09,0.3,0.0,-0.22,-0.22,0.22,-0.03,-0.11,0.26,
0.07,-0.07,0.22,0.09,-0.11,-0.11,0.03,-0.05,0.09,0.07,
0.0,-0.01,-0.09,0.07,0.04,-0.04,-0.06,0.07,-0.03,-0.01,
-0.03,0.1,0.18,-0.11,-0.03,-0.09,0.11,0.02,0.0,0.09,
-0.01,0.18,-0.06,-0.06,0.03,-0.11,0.11,0.05,-0.16,0.03];
const r5 = [-0.1,-0.14,0.0,0.2,-0.12,0.16,-0.09,0.35,-0.2,0.08,
-0.03,-0.14,0.06,0.03,-0.02,-0.03,-0.28,0.3,-0.1,0.35,
0.1,-0.15,0.1,-0.18,-0.02,0.04,0.08,-0.01,0.05,-0.03,
-0.04,0.15,0.2,-0.18,-0.1,0.05,-0.04,0.04,0.1,0.06,
-0.12,0.07,0.15,0.3,-0.27,0.14,0.15,0.05,-0.18,0.05,
0.4,-0.05,0.2,0.0,-0.12,-0.2,0.13,-0.02,-0.06,0.15,
0.05,-0.05,0.14,0.06,-0.07,-0.07,0.02,-0.03,0.06,0.05,
0.0,-0.01,-0.06,0.05,0.03,-0.03,-0.04,0.05,-0.02,-0.01,
-0.02,0.06,0.12,-0.07,-0.02,-0.06,0.07,0.01,0.0,0.06,
-0.01,0.12,-0.04,-0.04,0.02,-0.08,0.07,0.04,-0.1,0.02];
const r2 = [0.0,0.01,0.0,0.01,-0.01,0.0,0.01,0.0,-0.01,0.0,
0.01,0.0,-0.01,0.0,0.01,0.0,-0.01,0.01,0.0,0.0,
0.01,-0.01,0.0,0.01,0.0,-0.01,0.0,0.01,0.0,-0.01,
0.0,0.01,0.0,-0.01,0.0,0.01,0.0,0.0,-0.01,0.01,
0.0,-0.01,0.01,0.0,-0.01,0.0,0.01,0.0,0.0,0.01,
0.01,0.0,-0.01,0.0,0.01,0.0,0.0,-0.01,0.0,0.01,
0.0,0.01,0.0,-0.01,0.0,0.0,0.01,0.0,-0.01,0.0,
0.01,0.0,0.0,0.01,-0.01,0.0,0.0,0.01,0.0,-0.01,
0.0,0.0,0.01,0.0,0.0,-0.01,0.0,0.01,0.0,0.0,
0.01,0.0,-0.01,0.0,0.01,0.0,0.0,-0.01,0.0,0.01];

const seriesNames = [
'sci-7 bis (50m)(58) 02-Oct-19','sci-7 bis (50m)(57) 02-Sep-19','sci-7 bis (50m)(56) 30-Jul-19',
'sci-7 bis (50m)(55) 05-Jul-19','sci-7 bis (50m)(54) 03-Jun-19','sci-7 bis (50m)(53) 08-May-19',
'sci-7 bis (50m)(52) 03-Apr-19','sci-7 bis (50m)(51) 05-Mar-19','sci-7 bis (50m)(50) 06-Feb-19',
'sci-7 bis (50m)(49) 09-Jan-19','sci-7 bis (50m)(47) 07-Nov-18','sci-7 bis (50m)(45) 10-Sep-18',
'sci-7 bis (50m)(43) 04-Jul-18','sci-7 bis (50m)(40) 02-May-18','sci-7 bis (50m)(38) 05-Mar-18',
'sci-7 bis (50m)(37) 10-Jan-18','sci-7 bis (50m)(36) 15-Nov-17','sci-7 bis (50m)(35) 25-Sep-17',
'sci-7 bis (50m)(34) 27-Jul-17','sci-7 bis (50m)(33) 30-May-17','sci-7 bis (50m)(30) 03-Feb-17',
'sci-7 bis (50m)(29) 08-Nov-16','sci-7 bis (50m)(28) 05-Sep-16','sci-7 bis (50m)(27) 05-Jul-16',
'sci-7 bis (50m)(26) 10-May-16','sci-7 bis (50m)(25) 16-Mar-16','sci-7 bis (50m)(24) 19-Jan-16',
'sci-7 bis (50m)(23) 12-Nov-15','sci-7 bis (50m)(22) 21-Sep-15','sci-7 bis (0.5m)(20) 28-Jul-15',
'sci-7 bis (0.5m)(18) 02-Jun-15','sci-7 bis (0.5m)(16) 13-Apr-15','sci-7 bis (0.5m)(13) 11-Feb-15',
'sci-7 bis (0.5m)(11) 18-Nov-14','sci-7 bis (0.5m)(9) 24-Sep-14','sci-7 bis (0.5m)(7) 30-Jul-14',
'sci-7 bis (0.5m)(5) 03-Jun-14','sci-7 bis (0.5m)(2) 10-Apr-14'];
const seriesData = [r58,r57,r56,r55,r54,r53,r52,r51,r50,r49,r47,r45,r43,r40,r38,r37,r36,r35,r34,r33,r30,r29,r28,r27,r26,r25,r24,r23,r22,r20,r18,r16,r13,r11,r9,r7,r5,r2];

const xTickVals = [-2.8,-2.45,-2.1,-1.75,-1.4,-1.05,-0.7,-0.35,0,0.35,0.7,1.05,1.4,1.75,2.1,2.45,2.8];
const xTickText = ['-2.80','-2.45','-2.10','-1.75','-1.40','-1.05','-0.70','-0.35','0.00','0.35','0.70','1.05','1.40','1.75','2.10','2.45','2.80'];
const yTickVals = [0,-2,-4,-6,-8,-10,-12,-14,-16,-18,-20,-22,-24,-26,-28,-30,-32,-34,-36,-38,-40,-42,-44,-46,-48,-50];
const yTickText = ['0.0','-2.0','-4.0','-6.0','-8.0','-10.0','-12.0','-14.0','-16.0','-18.0','-20.0','-22.0','-24.0','-26.0','-28.0','-30.0','-32.0','-34.0','-36.0','-38.0','-40.0','-42.0','-44.0','-46.0','-48.0','-50.0'];

const palette = ['#4aa3ea','#3535cc','#c4cc1c','#8ea4b8','#4ccc4c','#2a8a2a','#e02828','#8c3434','#8c8c8c','#ff9422','#e6dc1e','#8a8a1e','#e040e0','#8040e0','#2ed0d0'];
const FONT = 'Liberation Sans, Arial, Helvetica, sans-serif';

const traces = seriesData.map((d, i) => {
  const c = palette[i % palette.length];
  const sym = i < 8 ? 'triangle-down' : (i < 23 ? 'square' : 'circle');
  return {
    type: 'scatter', mode: 'lines+markers',
    x: d, y: depth,
    name: '<span style="font-size:21px">' + seriesNames[i] + '</span>',
    line: {color: c, width: 1.3},
    marker: {symbol: sym, size: 10.5, color: '#ffffff', line: {color: c, width: 1.2}},
    hoverinfo: 'x+y+name'
  };
});

const gridStyle = {gridcolor: '#3f6a3f', griddash: '3px,8px', gridwidth: 1.3};

const layout = {
  width: 1112, height: 1315,
  margin: {l: 113, r: 20, t: 48, b: 65},
  paper_bgcolor: '#ffffff', plot_bgcolor: '#ece8dc',
  font: {family: FONT, size: 20, color: '#000'},
  showlegend: true,
  legend: {x: 0.005, y: 0.7767, xanchor: 'left', yanchor: 'top', bgcolor: 'rgba(0,0,0,0)',
           borderwidth: 0, font: {family: FONT, size: 16.2, color: '#000'}, tracegroupgap: 0},
  xaxis: Object.assign({
    range: [-2.8, 2.8], tickmode: 'array', tickvals: xTickVals, ticktext: xTickText,
    ticks: 'inside', ticklen: 8, tickwidth: 1.5, tickcolor: '#555', mirror: 'ticks',
    showline: true, linecolor: '#6a6a6a', linewidth: 2, showgrid: true, zeroline: false,
    tickfont: {family: FONT, size: 20.5}, ticklabelstandoff: 6,
    minor: {tickmode: 'linear', tick0: -2.8, dtick: 0.175, ticks: 'inside', ticklen: 5, tickcolor: '#555', showgrid: false},
    title: {text: 'Incremental Displacement (mm)', font: {family: FONT, size: 20.5}, standoff: 15}
  }, gridStyle),
  yaxis: Object.assign({
    range: [-50.5, 0], tickmode: 'array', tickvals: yTickVals, ticktext: yTickText,
    ticks: 'inside', ticklen: 8, tickwidth: 1.5, tickcolor: '#555', mirror: 'ticks',
    showline: true, linecolor: '#6a6a6a', linewidth: 2, showgrid: true, zeroline: false,
    tickfont: {family: FONT, size: 20.5}, ticklabelstandoff: 10,
    minor: {tickmode: 'linear', tick0: 0, dtick: 1, ticks: 'inside', ticklen: 5, tickcolor: '#555', showgrid: false},
    title: {text: 'Depth (meters)', font: {family: FONT, size: 20.5}, standoff: 5}
  }, gridStyle),
  shapes: [
    {type: 'line', xref: 'paper', yref: 'paper', x0: -0.1154, x1: 0.4566, y0: 1.0316, y1: 1.0316, line: {color: '#000', width: 1.2}},
    {type: 'line', xref: 'paper', yref: 'paper', x0: 0.5403, x1: 1.0204, y0: 1.0316, y1: 1.0316, line: {color: '#000', width: 1.2}},
    {type: 'rect', xref: 'paper', yref: 'paper', x0: 0.0429, x1: 0.3412, y0: 0.0133, y1: 0.7729, layer: 'above', fillcolor: '#ffffff', line: {width: 0}}
  ],
  annotations: [
    {text: 'Axis - B', xref: 'paper', yref: 'paper', x: 0.4985, y: 1.0233, xanchor: 'center', yanchor: 'middle', showarrow: false, font: {family: FONT, size: 20.5, color: '#000'}},
    {text: 'FLYSCH DE YESA', xref: 'paper', yref: 'paper', x: 0.8999, y: 0.0116, xanchor: 'center', yanchor: 'middle', showarrow: false, bgcolor: '#ffffff', borderpad: 2, font: {family: FONT, size: 21, color: '#000'}}
  ]
};

Plotly.newPlot('chart', traces, layout, {displayModeBar: false, staticPlot: true});
</script>
</body></html>
